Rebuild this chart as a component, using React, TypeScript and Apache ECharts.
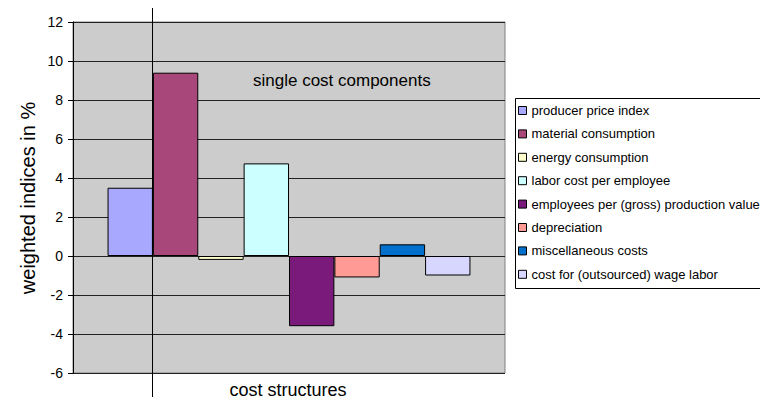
import React, { useEffect, useRef } from "react";
import * as echarts from "echarts";

const categories = ["1"];
const seriesNames = [
  "producer price index",
  "material consumption",
  "energy consumption",
  "labor cost per employee",
  "employees per (gross) production value",
  "depreciation",
  "miscellaneous costs",
  "cost for (outsourced) wage labor",
];
const seriesValues = [3.5, 9.4, -0.2, 4.75, -3.6, -1.1, 0.6, -1.0];
const seriesColors = [
  "#a8a8ff",
  "#a8487a",
  "#ffffcc",
  "#ccffff",
  "#7a1a7a",
  "#ff9a95",
  "#0070cc",
  "#d6d6ff",
];
const yTicks = { min: -6, max: 12, interval: 2 };

const FONT = "Liberation Sans, Arial, sans-serif";

export default function App() {
  const ref = useRef<HTMLDivElement>(null);

  useEffect(() => {
    document.body.style.margin = "0";
    if (!ref.current) return;
    const chart = echarts.init(ref.current, null, { renderer: "svg" });

    const series = seriesNames.map((name, i) => ({
      name,
      type: "bar" as const,
      data: [seriesValues[i]],
      barGap: "0%",
      barCategoryGap: "16%",
      itemStyle: { color: seriesColors[i], borderColor: "#000", borderWidth: 1 },
    }));

    chart.setOption({
      animation: false,
      backgroundColor: "#ffffff",
      textStyle: { fontFamily: FONT },
      grid: {
        left: 73,
        top: 22,
        width: 432,
        height: 351,
        show: true,
        backgroundColor: "#cccccc",
        borderColor: "#808080",
        borderWidth: 1,
      },
      xAxis: {
        type: "category",
        data: categories,
        axisLine: { show: false },
        axisTick: { show: false },
        axisLabel: { show: false },
        splitLine: { show: false },
      },
      yAxis: {
        type: "value",
        min: yTicks.min,
        max: yTicks.max,
        interval: yTicks.interval,
        axisLine: { show: true, lineStyle: { color: "#000", width: 1 } },
        axisTick: { show: true, length: 5, lineStyle: { color: "#000" } },
        axisLabel: { color: "#000", fontSize: 14, margin: 10, fontFamily: FONT },
        splitLine: { show: true, lineStyle: { color: "#222", width: 1 } },
      },
      legend: {
        orient: "vertical",
        left: 518,
        top: 104,
        padding: 0,
        itemWidth: 8,
        itemHeight: 8,
        itemGap: 10.4,
        icon: "rect",
        itemStyle: { borderColor: "#000", borderWidth: 1 },
        textStyle: { color: "#000", fontSize: 13, fontFamily: FONT },
        data: seriesNames,
      },
      graphic: [
        {
          type: "rect",
          shape: { x: 515.5, y: 98.5, width: 260, height: 190 },
          style: { fill: "#fff", stroke: "#000", lineWidth: 1 },
          z: -1,
          silent: true,
        },
        {
          type: "line",
          shape: { x1: 152.5, y1: 8, x2: 152.5, y2: 397 },
          style: { stroke: "#000", lineWidth: 1 },
          z: 100,
        },
        {
          type: "text",
          x: 253,
          y: 80,
          style: {
            text: "single cost components",
            fontSize: 17,
            fontFamily: FONT,
            fill: "#000",
            verticalAlign: "middle",
          },
          z: 100,
        },
        {
          type: "text",
          x: 288,
          y: 390,
          style: {
            text: "cost structures",
            fontSize: 18,
            fontFamily: FONT,
            fill: "#000",
            align: "center",
            verticalAlign: "middle",
          },
        },
        {
          type: "text",
          x: 28,
          y: 198,
          rotation: Math.PI / 2,
          style: {
            text: "weighted indices in %",
            fontSize: 20,
            fontFamily: FONT,
            fill: "#000",
            align: "center",
            verticalAlign: "middle",
          },
        },
      ],
      series,
    });

    return () => chart.dispose();
  }, []);

  return <div ref={ref} style={{ width: 760, height: 404 }} />;
}
